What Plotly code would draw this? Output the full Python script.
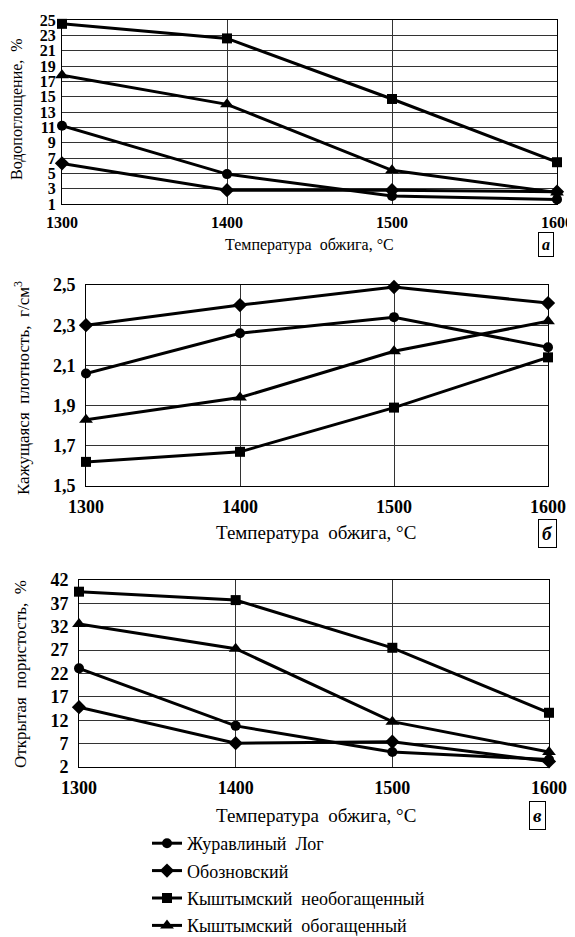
import plotly.graph_objects as go

OFF = 8  # page body margin of the browser
W, H = 575 - OFF, 937 - OFF
temps = [1300, 1400, 1500, 1600]
series_names = ["Журавлиный\u00a0\u00a0Лог", "Обозновский",
                "Кыштымский\u00a0\u00a0необогащенный", "Кыштымский\u00a0\u00a0обогащенный"]
symbols = ["circle", "diamond", "square", "triangle-up"]
marker_sizes = [10, 11, 10, 12]

# panel а: water absorption, %
water_zl = [11.2, 4.9, 2.05, 1.6]
water_ob = [6.3, 2.8, 2.8, 2.6]
water_kn = [24.5, 22.6, 14.7, 6.45]
water_ko = [17.8, 14.0, 5.4, 2.5]

# panel б: apparent density, g/cm3
dens_zl = [2.06, 2.26, 2.34, 2.19]
dens_ob = [2.30, 2.40, 2.49, 2.41]
dens_kn = [1.62, 1.67, 1.89, 2.14]
dens_ko = [1.83, 1.94, 2.17, 2.32]

# panel в: open porosity, %
por_zl = [23.1, 10.8, 5.2, 3.6]
por_ob = [14.8, 7.1, 7.4, 3.2]
por_kn = [39.5, 37.7, 27.5, 13.6]
por_ko = [32.6, 27.3, 11.7, 5.2]

ticks_a = list(range(1, 26, 2))
ticks_b = [1.5, 1.7, 1.9, 2.1, 2.3, 2.5]
ticks_b_text = ["1,5", "1,7", "1,9", "2,1", "2,3", "2,5"]
ticks_c = [2, 7, 12, 17, 22, 27, 32, 37, 42]

xlab = "Температура\u00a0\u00a0обжига,\u00a0°С"
ylab_a = "Водопоглощение,\u00a0\u00a0%"
ylab_b = "Кажущаяся\u00a0\u00a0плотность,\u00a0\u00a0г/см<sup>3</sup>"
ylab_c = "Открытая\u00a0\u00a0пористость,\u00a0\u00a0%"

SERIF = "Liberation Serif"

def fx(x):
    return (x - OFF) / W

def fy(y):
    return 1 - (y - OFF) / H

def dom_x(x0, x1):
    return [fx(x0), fx(x1)]

def dom_y(y0, y1):
    return [fy(y1), fy(y0)]

fig = go.Figure()

panels = [
    ("x", "y", [water_zl, water_ob, water_kn, water_ko]),
    ("x2", "y2", [dens_zl, dens_ob, dens_kn, dens_ko]),
    ("x3", "y3", [por_zl, por_ob, por_kn, por_ko]),
]
for pi, (xa, ya, data) in enumerate(panels):
    for si, vals in enumerate(data):
        fig.add_trace(go.Scatter(
            x=temps, y=vals, mode="lines+markers", xaxis=xa, yaxis=ya,
            name=series_names[si], legendgroup=str(si), showlegend=(pi == 0),
            line=dict(color="black", width=3),
            marker=dict(symbol=symbols[si], color="black", size=marker_sizes[si]),
            cliponaxis=False,
        ))

def axis_common(fs):
    return dict(showline=True, linecolor="black", linewidth=1, mirror=True,
                showgrid=True, gridcolor="#333333", gridwidth=1, zeroline=False,
                automargin=False, ticklabeloverflow="allow",
                tickfont=dict(family=SERIF, size=fs, color="black", weight="bold"), ticks="")

fig.update_layout(
    width=W, height=H, margin=dict(l=0, r=0, t=0, b=0, autoexpand=False),
    paper_bgcolor="white", plot_bgcolor="white",
    xaxis=dict(domain=dom_x(62, 557), anchor="y", range=[1300, 1600],
               tickvals=temps, ticklabelstandoff=4, **axis_common(16)),
    yaxis=dict(domain=dom_y(20, 204), anchor="x", range=[1, 25],
               tickvals=ticks_a, ticklabelstandoff=2, **axis_common(16)),
    xaxis2=dict(domain=dom_x(86, 548), anchor="y2", range=[1300, 1600],
                tickvals=temps, ticklabelstandoff=4, **axis_common(18)),
    yaxis2=dict(domain=dom_y(285, 486), anchor="x2", range=[1.5, 2.5],
                tickvals=ticks_b, ticktext=ticks_b_text, ticklabelstandoff=6, **axis_common(18)),
    xaxis3=dict(domain=dom_x(79, 549), anchor="y3", range=[1300, 1600],
                tickvals=temps, ticklabelstandoff=4, **axis_common(18)),
    yaxis3=dict(domain=dom_y(580, 767), anchor="x3", range=[2, 42],
                tickvals=ticks_c, ticklabelstandoff=6, **axis_common(18)),
    legend=dict(x=fx(147), y=fy(825), xanchor="left", yanchor="top",
                font=dict(family=SERIF, size=18, color="black"),
                tracegroupgap=1, bgcolor="rgba(0,0,0,0)", itemwidth=30),
    showlegend=True,
)

ann = []
def text_ann(x, y, text, size=15, angle=0):
    ann.append(dict(x=fx(x), y=fy(y), xref="paper", yref="paper", text=text,
                    showarrow=False, textangle=angle, xanchor="center", yanchor="middle",
                    font=dict(family=SERIF, size=size, color="black")))

text_ann(309, 245, xlab, 16)
text_ann(316, 532, xlab, 19)
text_ann(316, 815, xlab, 19)
text_ann(17, 109, ylab_a, 16, -90)
text_ann(22, 388, ylab_b, 17, -90)
text_ann(20, 674, ylab_c, 17, -90)

def box_ann(x, y, text, size):
    ann.append(dict(x=fx(x), y=fy(y), xref="paper", yref="paper", text="<i><b>" + text + "</b></i>",
                    showarrow=False, bordercolor="black", borderwidth=1, borderpad=3,
                    xanchor="center", yanchor="middle",
                    font=dict(family=SERIF, size=size, color="black")))

box_ann(546, 244, "а", 16)
box_ann(547, 533, "б", 19)
box_ann(537, 815, "в", 19)
fig.update_layout(annotations=ann)

fig.write_html("out.html")
